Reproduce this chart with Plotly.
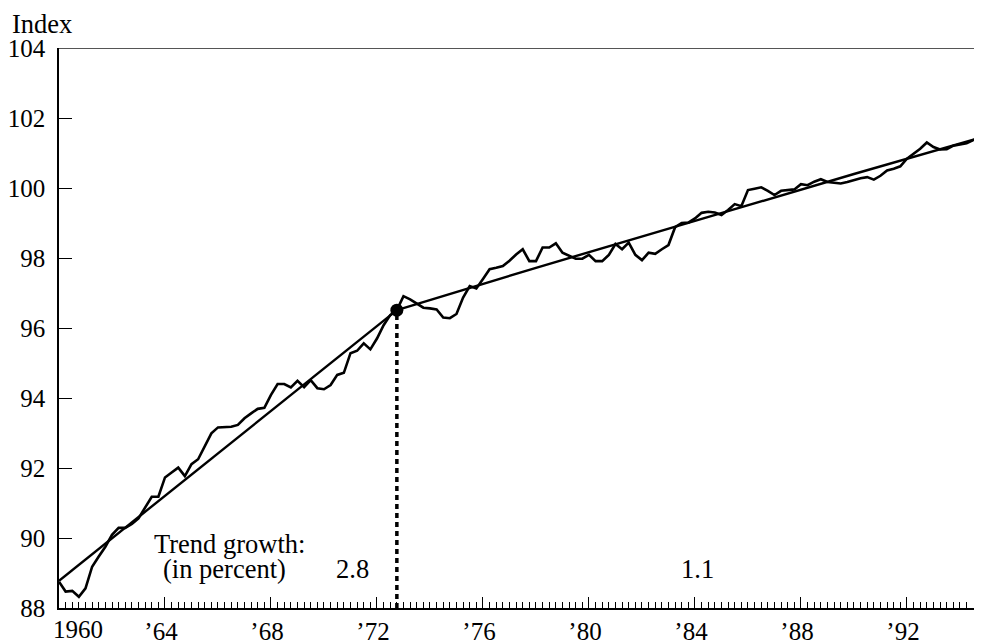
import plotly.graph_objects as go

# ---------------- data ----------------
start_year = 1960
quarters_per_year = 4
index_values = [
    88.75, 88.47, 88.49, 88.32, 88.56, 89.18, 89.47, 89.75, 90.09, 90.29,
    90.29, 90.40, 90.56, 90.89, 91.18, 91.18, 91.73, 91.87, 92.01, 91.77,
    92.11, 92.25, 92.63, 92.99, 93.16, 93.16, 93.18, 93.23, 93.42, 93.56,
    93.69, 93.72, 94.09, 94.40, 94.40, 94.30, 94.49, 94.31, 94.51, 94.28,
    94.25, 94.37, 94.66, 94.72, 95.28, 95.35, 95.56, 95.39, 95.70, 96.08,
    96.37, 96.51, 96.91, 96.82, 96.69, 96.58, 96.56, 96.53, 96.30, 96.28,
    96.40, 96.87, 97.20, 97.13, 97.40, 97.68, 97.72, 97.77, 97.92, 98.10,
    98.25, 97.91, 97.91, 98.30, 98.30, 98.42, 98.15, 98.06, 97.98, 97.98,
    98.09, 97.91, 97.91, 98.09, 98.40, 98.25, 98.44, 98.09, 97.94, 98.15,
    98.12, 98.25, 98.37, 98.88, 99.00, 99.01, 99.13, 99.29, 99.32, 99.30,
    99.23, 99.37, 99.54, 99.48, 99.94, 99.98, 100.02, 99.92, 99.80, 99.92,
    99.94, 99.96, 100.11, 100.08, 100.18, 100.25, 100.17, 100.15, 100.13, 100.17,
    100.23, 100.28, 100.31, 100.24, 100.35, 100.50, 100.55, 100.62, 100.84, 100.99,
    101.12, 101.30, 101.17, 101.10, 101.11, 101.21, 101.25, 101.28, 101.37, 101.46,
]
quarter_years = [start_year + i / quarters_per_year for i in range(len(index_values))]

trend1_years = [1960.0, 1972.75]
trend1_values = [88.78, 96.51]
trend2_years = [1972.75, 1978.0, 1984.0, 1990.0, 1995.0]
trend2_values = [96.51, 97.72, 99.06, 100.40, 101.49]

break_year = 1972.75
break_value = 96.51
axis_min = 88

growth_labels = ["2.8", "1.1"]
growth_label_years = [1971.06, 1984.08]

x_tick_vals = [1964, 1968, 1972, 1976, 1980, 1984, 1988, 1992]
x_tick_text = ["\u201964", "\u201968", "\u201972", "\u201976", "\u201980", "\u201984", "\u201988", "\u201992"]
y_tick_vals = [88, 90, 92, 94, 96, 98, 100, 102, 104]

# ---------------- figure ----------------
FONT = "Liberation Serif, Times New Roman, serif"
FS = 25
FSA = 26.5
BLACK = "#000000"

fig = go.Figure()

fig.add_trace(go.Scatter(x=quarter_years, y=index_values, mode="lines",
                         line=dict(color=BLACK, width=2.6), hoverinfo="skip"))
fig.add_trace(go.Scatter(x=trend1_years, y=trend1_values, mode="lines",
                         line=dict(color=BLACK, width=2.4), hoverinfo="skip"))
fig.add_trace(go.Scatter(x=trend2_years, y=trend2_values, mode="lines",
                         line=dict(color=BLACK, width=2.4), hoverinfo="skip"))
fig.add_trace(go.Scatter(x=[break_year, break_year], y=[axis_min, break_value], mode="lines",
                         line=dict(color=BLACK, width=3.5, dash="5px,4px"), hoverinfo="skip"))
fig.add_trace(go.Scatter(x=[break_year], y=[break_value], mode="markers",
                         marker=dict(color=BLACK, size=13, symbol="circle"), hoverinfo="skip"))

# page body has an 8px margin: size the figure so it fits the window
fig.update_layout(
    width=966, height=633,
    margin=dict(l=51, r=0, t=40, b=33, autoexpand=False),
    paper_bgcolor="white", plot_bgcolor="white",
    showlegend=False,
    font=dict(family=FONT, size=FS, color=BLACK),
)

fig.update_xaxes(
    range=[1960, 1994.53], automargin=False,
    tickvals=x_tick_vals, ticktext=x_tick_text,
    ticks="inside", ticklen=11, tickwidth=1.3, tickcolor=BLACK,
    showline=True, linecolor=BLACK, linewidth=1.5,
    showgrid=False, zeroline=False,
    tickfont=dict(family=FONT, size=FS, color=BLACK),
    ticklabelshift=-4,
    minor=dict(tick0=1960, dtick=0.25, ticks="inside", ticklen=6,
               tickwidth=1, tickcolor=BLACK, showgrid=False),
)
fig.update_yaxes(
    range=[88, 104], automargin=False,
    tickvals=y_tick_vals,
    ticks="inside", ticklen=13, tickwidth=1.3, tickcolor=BLACK,
    showline=True, linecolor=BLACK, linewidth=1.5,
    showgrid=False, zeroline=False,
    ticklabelstandoff=7,
    tickfont=dict(family=FONT, size=FS, color=BLACK),
)

# top frame line
fig.add_shape(type="line", xref="paper", yref="y", x0=0, x1=1, y0=104, y1=104,
              line=dict(color="#555555", width=2))

# text
fig.add_annotation(text="Index", xref="paper", yref="paper", x=-0.0536, y=1.043,
                   xanchor="left", yanchor="middle", showarrow=False,
                   font=dict(family=FONT, size=FSA, color=BLACK))
fig.add_annotation(text="1960", xref="x", yref="paper", x=1960, y=0,
                   xanchor="left", yanchor="top", xshift=-8, yshift=-6, showarrow=False,
                   font=dict(family=FONT, size=FS, color=BLACK))
fig.add_annotation(text="Trend growth:", xref="x", yref="y", x=1966.42, y=89.83,
                   xanchor="center", yanchor="middle", showarrow=False,
                   font=dict(family=FONT, size=FSA, color=BLACK))
fig.add_annotation(text="(in percent)", xref="x", yref="y", x=1966.23, y=89.11,
                   xanchor="center", yanchor="middle", showarrow=False,
                   font=dict(family=FONT, size=FSA, color=BLACK))
for lbl, yr in zip(growth_labels, growth_label_years):
    fig.add_annotation(text=lbl, xref="x", yref="y", x=yr, y=89.12,
                       xanchor="center", yanchor="middle", showarrow=False,
                       font=dict(family=FONT, size=FSA, color=BLACK))

fig.write_html("out.html")
